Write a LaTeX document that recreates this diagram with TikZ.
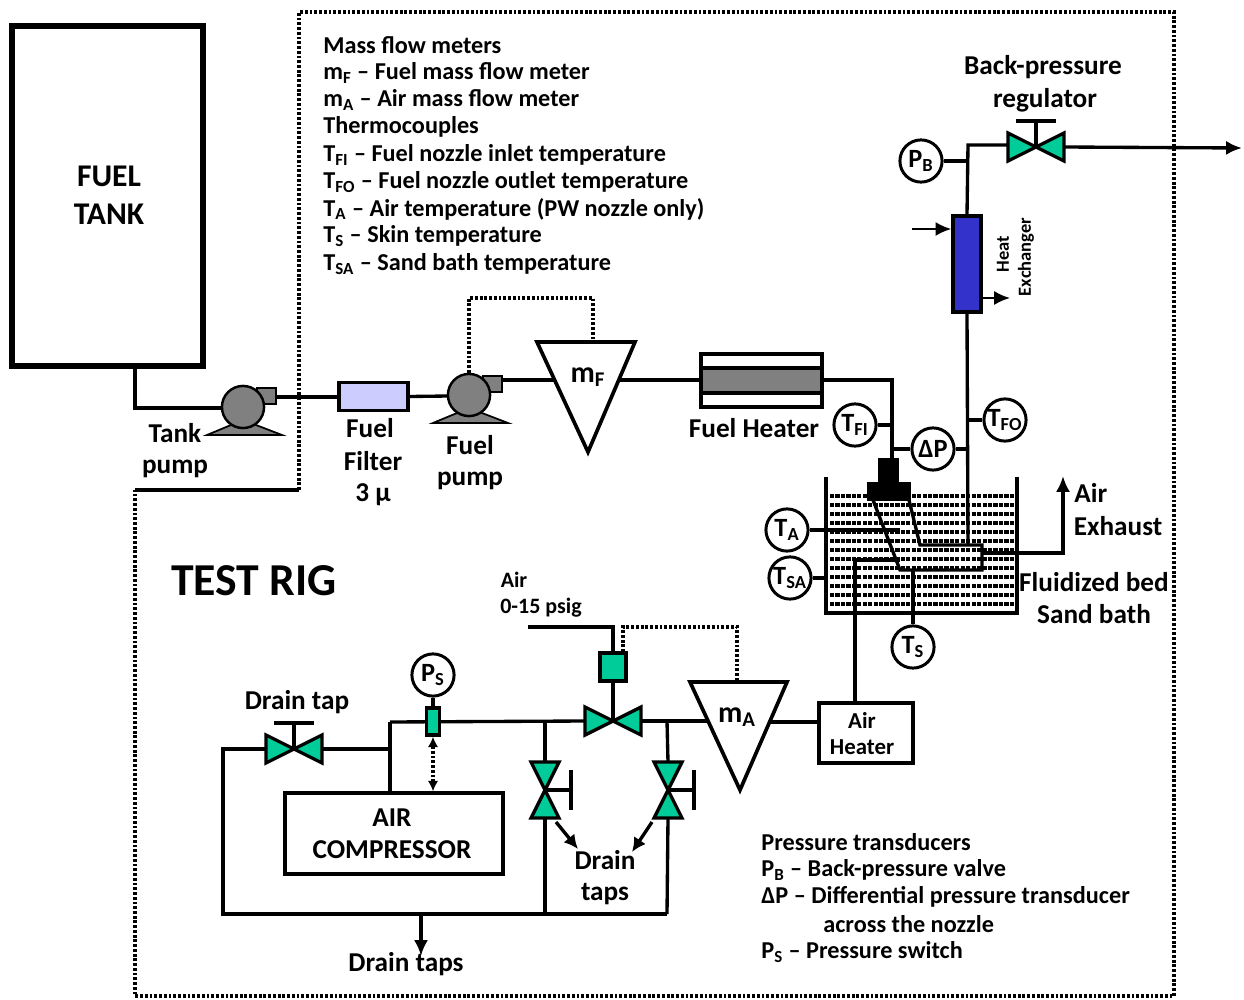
\documentclass[tikz,border=0pt]{standalone}
\usepackage{fontspec}
\setmainfont{Carlito}
\usetikzlibrary{arrows.meta}
\definecolor{valvegreen}{HTML}{00CC99}
\definecolor{pumpgray}{HTML}{808080}
\definecolor{hxblue}{HTML}{3333CC}
\definecolor{filterblue}{HTML}{CCCCFF}
\tikzset{
	pipe/.style={line width=1.9pt},
	flow/.style={pipe,-{Latex[length=9pt,width=8pt]}},
	ctrl/.style={line width=2pt,dash pattern=on 1.6pt off 1.1pt},
	sand/.style={line width=2pt,dash pattern=on 2.4pt off 0.7pt},
	box/.style={draw,line width=1.9pt,inner sep=0pt},
	gauge/.style={draw,circle,fill=white,line width=1.7pt,minimum size=24pt,inner sep=0pt,font=\fontsize{15}{15}\bfseries},
	lbl/.style={font=\fontsize{15.5}{15.5}\bfseries,inner sep=0pt},
	legend/.style={font=\fontsize{13.8}{13.8}\bfseries,inner sep=0pt,anchor=west},
	valve/.pic={
		\draw[pipe,fill=valvegreen] (-28,-14) -- (0,0) -- (-28,14) -- cycle;
		\draw[pipe,fill=valvegreen] (28,-14) -- (0,0) -- (28,14) -- cycle;
		\coordinate (-in) at (-28,0);
		\coordinate (-out) at (28,0);
	},
	handle/.pic={
		\draw[pipe] (0,0) -- (0,-26);
		\draw[pipe] (-20,-26) -- (20,-26);
	},
	pump/.pic={
		\draw[line width=1pt,fill=pumpgray] (-36,28) -- (0,13) -- (39,28) -- cycle;
		\draw[line width=1.4pt,fill=pumpgray] (14,-19) rectangle (33,-3);
		\node[draw,circle,fill=pumpgray,line width=1.4pt,minimum size=24pt,inner sep=0pt] (-body) at (0,0) {};
	}
}
\begin{document}
\begin{tikzpicture}[x=0.02cm,y=-0.02cm]
	\useasboundingbox (0,0) rectangle (1244,1000);

	% frame of the rig
	\coordinate (rigA) at (299,12);
	\coordinate (rigB) at (1174,12);
	\coordinate (rigC) at (1174,996);
	\coordinate (rigD) at (135,996);
	\coordinate (rigE) at (135,490);
	\coordinate (rigF) at (299,490);
	\draw[ctrl] (rigF) -- (rigA) -- (rigB) -- (rigC) -- (rigD) -- (rigE);
	\draw[pipe] (rigE) -- (rigF);

	\node[box,line width=2.9pt,minimum width=3.82cm,minimum height=6.8cm] (tank) at (107.5,196) {};
	\node[lbl,font=\fontsize{18}{18}\bfseries] (tanktxtA) at (109,176) {FUEL};
	\node[lbl,font=\fontsize{18}{18}\bfseries] (tanktxtB) at (109,214) {TANK};
	\node[lbl,font=\fontsize{26}{26}\bfseries] (rigtxt) at (254,581) {TEST RIG};

	% fuel line
	\coordinate (tankout) at (135,368);
	\coordinate (tankcorner) at (135,408);
	\coordinate (tankpumpout) at (276,397);
	\coordinate (fuelpumpout) at (501,380);
	\coordinate (mFin) at (555,380);
	\coordinate (mFout) at (620,380);
	\coordinate (heaterin) at (700,380);
	\coordinate (heaterout) at (823,380);
	\coordinate (nozzlein) at (892,380);
	\coordinate (nozzletop) at (892,462);
	\node[box,fill=filterblue,minimum width=1.38cm,minimum height=0.55cm] (filter) at (373.5,396.5) {};
	\draw[pipe] (tankout) -- (tankcorner) -- (222,408);
	\draw[pipe] (tankpumpout) -- (tankpumpout -| filter.west);
	\draw[pipe] (filter.east) -- (448,396);
	\draw[pipe] (fuelpumpout) -- (mFin);
	\draw[pipe] (mFout) -- (heaterin);
	\draw[pipe] (heaterout) -- (nozzlein) -- (nozzletop);
	\pic (tankpump) at (243,407) {pump};
	\pic (fuelpump) at (469,395) {pump};

	% mass flow meters
	\coordinate (mFleft) at (537,342);
	\coordinate (mFright) at (635,342);
	\coordinate (mFtip) at (588,452);
	\coordinate (mFctrl) at (593,342);
	\draw[pipe,line width=2.1pt] (mFleft) -- (mFright) -- (mFtip) -- cycle;
	\node[lbl,font=\fontsize{17}{17}\bfseries] (mFtxt) at (588,377) {m\textsubscript{F}};
	\draw[ctrl] (fuelpump-body.north) -- (469,298) -- (593,298) -- (mFctrl);

	\node[box,fill=white,minimum width=2.42cm,minimum height=1.06cm] (heater) at (761.5,380.5) {};
	\node[box,fill=pumpgray,minimum width=2.42cm,minimum height=0.5cm] (heatercore) at (761.5,380.5) {};

	% sand bath
	\coordinate (bathA) at (826,477);
	\coordinate (bathB) at (826,613);
	\coordinate (bathC) at (1017,613);
	\coordinate (bathD) at (1017,477);
	\foreach \yy in {496,505,...,604}
		\draw[sand] (830,\yy) -- (1014,\yy);
	\draw[pipe] (bathA) -- (bathB) -- (bathC) -- (bathD);

	% nozzle
	\coordinate (nozA) at (873,500);
	\coordinate (nozB) at (900,570);
	\coordinate (nozC) at (982,570);
	\coordinate (nozD) at (982,545);
	\coordinate (nozE) at (920,545);
	\coordinate (nozF) at (909,500);
	\draw[pipe] (nozA) -- (nozB) -- (nozC) -- (nozD) -- (nozE) -- (nozF);
	\node[box,fill=black,minimum width=0.34cm,minimum height=0.46cm] (nozzlebody) at (888.5,471.5) {};
	\node[box,fill=black,minimum width=0.82cm,minimum height=0.3cm] (nozzlebase) at (889,491.5) {};

	% instruments on the nozzle
	\node[gauge] (TFI) at (855,425) {T\textsubscript{FI}};
	\node[gauge] (DP) at (933,449) {ΔP};
	\node[gauge] (TFO) at (1005,420) {T\textsubscript{FO}};
	\node[gauge] (TA) at (787,530) {T\textsubscript{A}};
	\node[gauge] (TSA) at (790,578) {T\textsubscript{SA}};
	\node[gauge] (TS) at (913,647) {T\textsubscript{S}};
	\node[gauge] (PB) at (921,161) {P\textsubscript{B}};
	\node[gauge] (PS) at (433,675) {P\textsubscript{S}};
	\draw[pipe] (TFI) -- (TFI -| nozzlein);
	\draw[pipe] (DP) -- (DP -| nozzlein);
	\draw[pipe] (TA) -- (900,530);
	\draw[pipe] (TSA) -- (TSA -| bathA);
	\draw[pipe] (TS) -- (TS |- nozB);

	% outlet and back pressure
	\node[box,fill=hxblue,minimum width=0.56cm,minimum height=1.92cm] (hx) at (967,264) {};
	\coordinate (outletbot) at (968,545);
	\coordinate (outletup) at (968,145);
	\draw[pipe] (outletbot) -- (hx.south);
	\draw[pipe] (hx.north) -- (outletup) -- (1008,145);
	\draw[pipe] (DP) -- (DP -| outletbot);
	\draw[pipe] (TFO) -- (TFO -| outletbot);
	\draw[pipe] (PB) -- (PB -| outletup);
	\pic (bpvalve) at (1036,147) {valve};
	\pic at (1036,147) {handle};
	\coordinate (outletend) at (1242,148);
	\draw[flow] (bpvalve-out) -- (outletend);
	\coordinate (hxcoldin) at (912,229);
	\coordinate (hxcoldout) at (1010,298);
	\draw[flow,line width=1.3pt] (hxcoldin) -- (hxcoldin -| hx.west);
	\draw[flow,line width=1.3pt] (hxcoldout -| hx.east) -- (hxcoldout);
	\node[lbl,font=\fontsize{10.5}{10.5}\bfseries,rotate=90] (hxtxtA) at (1003,254) {Heat};
	\node[lbl,font=\fontsize{10.5}{10.5}\bfseries,rotate=90] (hxtxtB) at (1026,257) {Exchanger};

	% air line
	\node[box,minimum width=1.88cm,minimum height=1.2cm] (airheater) at (866,733) {};
	\coordinate (airup) at (855,702);
	\coordinate (aircorner) at (855,560);
	\coordinate (airnozzle) at (900,560);
	\coordinate (mAleft) at (690,682);
	\coordinate (mAright) at (787,682);
	\coordinate (mAtip) at (740,790);
	\coordinate (mActrl) at (737,682);
	\coordinate (mAin) at (708,721);
	\coordinate (mAout) at (770,722);
	\draw[pipe,line width=2.1pt] (mAleft) -- (mAright) -- (mAtip) -- cycle;
	\node[lbl,font=\fontsize{17}{17}\bfseries] (mAtxt) at (737,717) {m\textsubscript{A}};
	\draw[pipe] (mAout) -- (mAout -| airheater.west);
	\draw[pipe] (airup) -- (aircorner) -- (airnozzle);
	\coordinate (exhaustA) at (982,553);
	\coordinate (exhaustB) at (1063,553);
	\coordinate (exhaustC) at (1063,476);
	\draw[flow] (exhaustA) -- (exhaustB) -- (exhaustC);

	\node[box,fill=valvegreen,minimum width=0.52cm,minimum height=0.56cm] (actuator) at (613,667) {};
	\coordinate (airin) at (528,627);
	\coordinate (airtop) at (613,627);
	\draw[pipe] (airin) -- (airtop) -- (actuator.north);
	\pic (mainvalve) at (613,721) {valve};
	\draw[pipe] (actuator.south) -- (mainvalve-in -| actuator);
	\draw[ctrl] (623,652) -- (623,627) -- (737,627) -- (mActrl);
	\draw[pipe] (mainvalve-out) -- (mAin);

	% compressor side
	\node[box,minimum width=4.36cm,minimum height=1.62cm] (compressor) at (394,833.5) {};
	\coordinate (headL) at (390,722);
	\coordinate (tapjoin) at (390,749);
	\coordinate (corner) at (223,749);
	\coordinate (botL) at (223,914);
	\coordinate (botR) at (667,914);
	\coordinate (botM) at (545,914);
	\coordinate (drainend) at (421,956);
	\draw[pipe] (headL) -- (mainvalve-in);
	\draw[pipe] (headL) -- (headL |- compressor.north);
	\pic (draintap) at (294,749) {valve};
	\pic at (294,749) {handle};
	\draw[pipe] (draintap-out) -- (tapjoin);
	\draw[pipe] (draintap-in) -- (corner) -- (botL) -- (botR);
	\draw[flow] (421,914) -- (drainend);
	\pic[rotate=-90] (dvalveA) at (545,790) {valve};
	\pic[rotate=-90] at (545,790) {handle};
	\pic[rotate=-90] (dvalveB) at (668,790) {valve};
	\pic[rotate=-90] at (668,790) {handle};
	\draw[pipe] (545,722) -- (dvalveA-in);
	\draw[pipe] (dvalveA-out) -- (botM);
	\draw[pipe] (667,721) -- (dvalveB-in);
	\draw[pipe] (dvalveB-out) -- (botR);
	\coordinate (dripA) at (556,822);
	\coordinate (dripB) at (652,822);
	\draw[flow,-{Latex[length=8pt,width=8pt]}] (dripA) -- (578,849);
	\draw[flow,-{Latex[length=8pt,width=8pt]}] (dripB) -- (632,852);
	\node[box,fill=valvegreen,minimum width=0.26cm,minimum height=0.54cm] (switch) at (433,721.5) {};
	\draw[pipe] (PS) -- (switch);
	\draw[ctrl,{Latex[length=6pt,width=6pt]}-{Latex[length=6pt,width=6pt]}] (switch) -- (compressor.north -| switch);

	% labels
	\node[lbl] (bptxtA) at (1043,67) {Back-pressure};
	\node[lbl] (bptxtB) at (1045,100) {regulator};
	\node[lbl] (tanklblA) at (175,433) {Tank};
	\node[lbl] (tanklblB) at (175,469) {pump};
	\node[lbl] (filtA) at (370,428) {Fuel};
	\node[lbl] (filtB) at (373,461) {Filter};
	\node[lbl] (filtC) at (373,495) {3 µ};
	\node[lbl] (fuelA) at (470,445) {Fuel};
	\node[lbl] (fuelB) at (470,481) {pump};
	\node[lbl] (heatertxt) at (754,428) {Fuel Heater};
	\node[lbl,anchor=west] (exhA) at (1074,493) {Air};
	\node[lbl] (exhB) at (1118,526) {Exhaust};
	\node[lbl] (bedA) at (1094,582) {Fluidized bed};
	\node[lbl] (bedB) at (1094,614) {Sand bath};
	\node[lbl,font=\fontsize{12.5}{12.5}\bfseries] (airA) at (514,580) {Air};
	\node[lbl,font=\fontsize{12.5}{12.5}\bfseries] (airB) at (541,608) {0-15 psig};
	\node[lbl,font=\fontsize{13}{13}\bfseries] (htrA) at (862,720) {Air};
	\node[lbl,font=\fontsize{13}{13}\bfseries] (htrB) at (862,747) {Heater};
	\node[lbl] (dtaptxt) at (297,702) {Drain tap};
	\node[lbl] (compA) at (392,818) {AIR};
	\node[lbl] (compB) at (392,850) {COMPRESSOR};
	\node[lbl] (dtapsA) at (605,860) {Drain};
	\node[lbl] (dtapsB) at (605,894) {taps};
	\node[lbl] (dtapsC) at (406,964) {Drain taps};

	% lists
	\node[legend] (legA) at (323,45) {Mass flow meters};
	\node[legend] (legB) at (323,73) {m\textsubscript{F} – Fuel mass flow meter};
	\node[legend] (legC) at (323,100) {m\textsubscript{A} – Air mass flow meter};
	\node[legend] (legD) at (323,127) {Thermocouples};
	\node[legend] (legE) at (323,155) {T\textsubscript{FI} – Fuel nozzle inlet temperature};
	\node[legend] (legF) at (323,182) {T\textsubscript{FO} – Fuel nozzle outlet temperature};
	\node[legend] (legG) at (323,209) {T\textsubscript{A} – Air temperature (PW nozzle only)};
	\node[legend] (legH) at (323,236) {T\textsubscript{S} – Skin temperature};
	\node[legend] (legI) at (323,264) {T\textsubscript{SA} – Sand bath temperature};
	\node[legend] (presA) at (761,842) {Pressure transducers};
	\node[legend] (presB) at (761,870) {P\textsubscript{B} – Back-pressure valve};
	\node[legend] (presC) at (761,897) {ΔP – Differential pressure transducer};
	\node[legend] (presD) at (823,924) {across the nozzle};
	\node[legend] (presE) at (761,952) {P\textsubscript{S} – Pressure switch};
\end{tikzpicture}
\end{document}
